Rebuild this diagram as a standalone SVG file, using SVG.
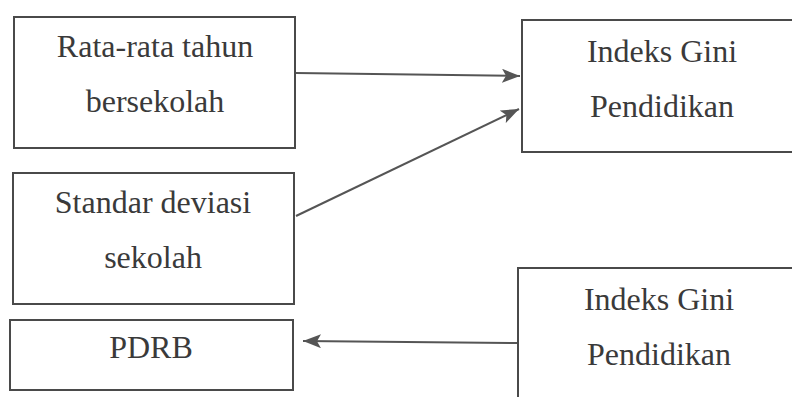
<svg xmlns="http://www.w3.org/2000/svg" width="792" height="397" viewBox="0 0 792 397">
<style>
.box{fill:#fff;stroke:#4a4a4a;stroke-width:2}
.t{font-family:'Liberation Serif','Times New Roman',serif;font-size:32px;fill:#3a3a3a;text-anchor:middle}
.c{stroke:#555;stroke-width:2;fill:none}
</style>
<defs>
<marker id="ah" viewBox="0 0 18 14" refX="18" refY="7" markerWidth="18" markerHeight="14" markerUnits="userSpaceOnUse" orient="auto">
<path d="M0,0 L18,7 L0,14 L4,7 Z" fill="#555"/>
</marker>
</defs>
<rect width="792" height="397" fill="#fff"/>
<g id="n1"><rect class="box" x="14" y="17" width="281" height="131"/>
<text class="t" x="155" y="57">Rata-rata tahun</text>
<text class="t" x="155" y="112">bersekolah</text></g>
<g id="n2"><rect class="box" x="13" y="173" width="281" height="131"/>
<text class="t" x="153" y="213">Standar deviasi</text>
<text class="t" x="153" y="268">sekolah</text></g>
<g id="n3"><rect class="box" x="10" y="320" width="283" height="70"/>
<text class="t" x="151" y="358">PDRB</text></g>
<g id="n4"><rect class="box" x="522" y="20" width="290" height="132"/>
<text class="t" x="662" y="62">Indeks Gini</text>
<text class="t" x="662" y="117">Pendidikan</text></g>
<g id="n5"><rect class="box" x="518" y="268" width="290" height="140"/>
<text class="t" x="659" y="310">Indeks Gini</text>
<text class="t" x="659" y="365">Pendidikan</text></g>
<g id="connectors">
<line class="c" x1="296" y1="73" x2="520" y2="76" marker-end="url(#ah)"/>
<line class="c" x1="296" y1="216" x2="519" y2="109" marker-end="url(#ah)"/>
<line class="c" x1="517" y1="343" x2="303" y2="341" marker-end="url(#ah)"/>
</g>
</svg>
